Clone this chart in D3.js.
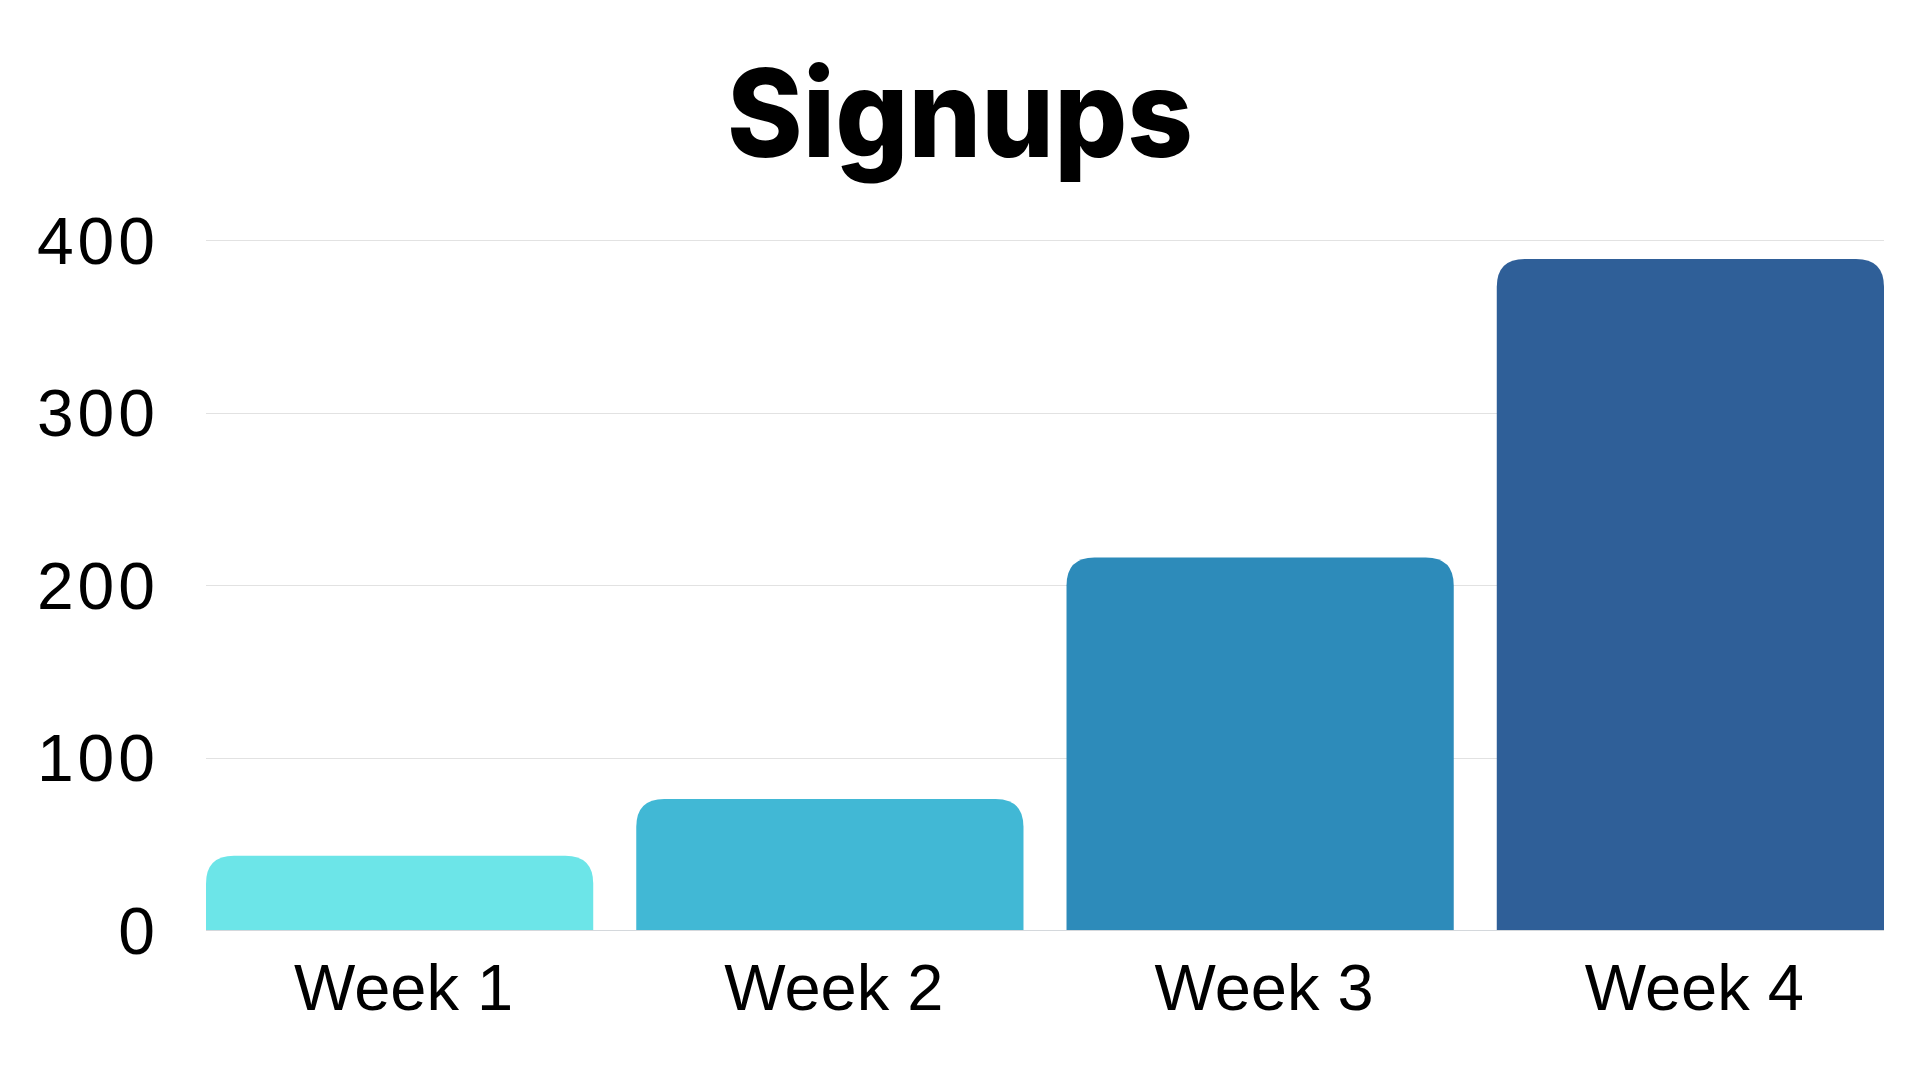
<!DOCTYPE html>
<html>
<head>
<meta charset="utf-8">
<script src="https://cdn.jsdelivr.net/npm/d3@7"></script>
<style>
html, body { margin: 0; padding: 0; background: #ffffff; }
svg { display: block; }
</style>
</head>
<body>
<svg id="chart" width="1920" height="1080"></svg>
<script>
const title = "Signups";
const categories = ["Week 1", "Week 2", "Week 3", "Week 4"];
const values = [43, 76, 216, 389];
const colors = ["#6CE5E8", "#41B8D5", "#2D8BBA", "#2F5F98"];
const yTicks = [0, 100, 200, 300, 400];

const svg = d3.select("#chart");
const margin = { left: 206, right: 36, top: 240, bottom: 150 };
const W = 1920, H = 1080;

const x = d3.scaleBand()
  .domain(categories)
  .range([margin.left, W - margin.right])
  .paddingInner(0.1)
  .paddingOuter(0);

const y = d3.scaleLinear()
  .domain([0, 400])
  .range([H - margin.bottom, margin.top]);

// gridlines
svg.append("g")
  .selectAll("line")
  .data(yTicks.filter(d => d !== 0))
  .join("line")
  .attr("x1", margin.left)
  .attr("x2", W - margin.right)
  .attr("y1", d => Math.round(y(d)) + 0.5)
  .attr("y2", d => Math.round(y(d)) + 0.5)
  .attr("stroke", "#e2e2e2")
  .attr("stroke-width", 1);

// bars with rounded top corners
function topRounded(x0, y0, w, h, r) {
  r = Math.min(r, w / 2, h);
  return `M${x0},${y0 + h}` +
    `L${x0},${y0 + r}` +
    `Q${x0},${y0} ${x0 + r},${y0}` +
    `L${x0 + w - r},${y0}` +
    `Q${x0 + w},${y0} ${x0 + w},${y0 + r}` +
    `L${x0 + w},${y0 + h}Z`;
}

svg.append("g")
  .selectAll("path")
  .data(categories.map((c, i) => ({ c, v: values[i], col: colors[i] })))
  .join("path")
  .attr("d", d => topRounded(x(d.c), y(d.v), x.bandwidth(), y(0) - y(d.v), 28))
  .attr("fill", d => d.col);

// baseline
svg.append("line")
  .attr("x1", margin.left)
  .attr("x2", W - margin.right)
  .attr("y1", y(0) + 0.5)
  .attr("y2", y(0) + 0.5)
  .attr("stroke", "#d4d8dc")
  .attr("stroke-width", 1);

// y axis
const yAxis = d3.axisLeft(y).tickValues(yTicks).tickSize(0).tickPadding(47);
const gy = svg.append("g")
  .attr("transform", `translate(${margin.left},0)`)
  .call(yAxis);
gy.select(".domain").remove();
gy.selectAll("text")
  .attr("font-family", "'Liberation Sans', Arial, sans-serif")
  .attr("font-size", 66)
  .attr("letter-spacing", 4)
  .attr("fill", "#000")
  .attr("dy", "0.35em");

// x axis
const xAxis = d3.axisBottom(x).tickSize(0).tickPadding(34);
const gx = svg.append("g")
  .attr("transform", `translate(0,${y(0)})`)
  .call(xAxis);
gx.select(".domain").remove();
gx.selectAll("text")
  .attr("font-family", "'Liberation Sans', Arial, sans-serif")
  .attr("font-size", 65)
  .attr("fill", "#000")
  .attr("dx", 4)
  .attr("dy", "0.71em");

// title
svg.append("text")
  .attr("x", 960)
  .attr("y", 157)
  .attr("text-anchor", "middle")
  .attr("font-family", "Inter, 'Open Sans', sans-serif")
  .attr("font-weight", 800)
  .attr("font-size", 122)
  .attr("textLength", 466)
  .attr("lengthAdjust", "spacingAndGlyphs")
  .attr("fill", "#000")
  .text(title);
</script>
</body>
</html>
